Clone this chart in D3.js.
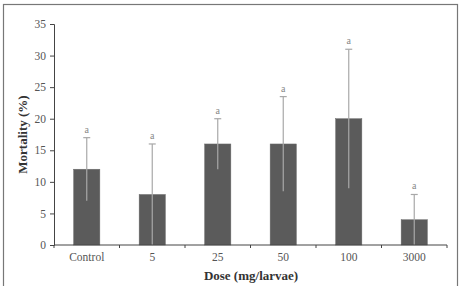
<!DOCTYPE html>
<html><head><meta charset="utf-8">
<script src="https://cdn.jsdelivr.net/npm/d3@7"></script>
<style>body{margin:0;background:#fff}svg{display:block}</style>
</head><body>
<script>
const categories = ["Control","5","25","50","100","3000"];
const mortality = [12, 8, 16, 16, 20, 4];
const errors = [5, 8, 4, 7.5, 11, 4];
const letters = ["a","a","a","a","a","a"];
const yTicks = [0,5,10,15,20,25,30,35];

(function(){
const W = 463, H = 286;
const svg = d3.select("body").append("svg").attr("width", W).attr("height", H);
svg.append("rect").attr("x",3.5).attr("y",4.5).attr("width",454).attr("height",290)
  .attr("fill","none").attr("stroke","#777").attr("stroke-width",1.2);

const mL = 54, mR = 447, mT = 24, mB = 245;
const x = d3.scaleBand().domain(categories).range([mL, mR]).paddingInner(0.6).paddingOuter(0.3);
const xb = d3.scaleBand().domain(categories).range([mL, mR]);
const y = d3.scaleLinear().domain([0,35]).range([mB, mT]);

const font = "'Liberation Serif', 'Times New Roman', serif";

svg.selectAll("rect.bar").data(categories).enter().append("rect")
  .attr("x", d => x(d)).attr("width", x.bandwidth())
  .attr("y", (d,i) => y(mortality[i])).attr("height", (d,i) => y(0) - y(mortality[i]))
  .attr("fill", "#5b5b5b").attr("stroke","#6a6a6a").attr("stroke-width",0.5);

const cx = d => x(d) + x.bandwidth()/2;
svg.selectAll("line.err").data(categories).enter().append("line")
  .attr("x1", cx).attr("x2", cx)
  .attr("y1", (d,i) => y(Math.max(0, mortality[i]-errors[i])))
  .attr("y2", (d,i) => y(mortality[i]+errors[i]))
  .attr("stroke", "#a8a8a8").attr("stroke-width", 1.2);
svg.selectAll("line.cap").data(categories).enter().append("line")
  .attr("x1", d => cx(d)-3.5).attr("x2", d => cx(d)+3.5)
  .attr("y1", (d,i) => y(mortality[i]+errors[i]))
  .attr("y2", (d,i) => y(mortality[i]+errors[i]))
  .attr("stroke", "#a8a8a8").attr("stroke-width", 1.2);
svg.selectAll("text.let").data(categories).enter().append("text")
  .attr("x", cx).attr("y", (d,i) => y(mortality[i]+errors[i]) - 5)
  .attr("text-anchor","middle").attr("font-family", font).attr("font-size", 10)
  .attr("fill","#888").text((d,i) => letters[i]);

const yAxis = svg.append("g").attr("transform", `translate(${mL},0)`)
  .call(d3.axisLeft(y).tickValues(yTicks).tickSize(4).tickPadding(4));
yAxis.select(".domain").attr("stroke","#444");
yAxis.selectAll(".tick line").attr("stroke","#444");
yAxis.selectAll("text").attr("font-family", font).attr("font-size", 11.5).attr("fill","#555");

const xAxis = svg.append("g").attr("transform", `translate(0,${mB})`)
  .call(d3.axisBottom(x).tickSize(0).tickPadding(8));
xAxis.select(".domain").attr("stroke","#444").attr("d", `M${mL},0H${mR}`);
xAxis.selectAll("text").attr("font-family", font).attr("font-size", 11.5).attr("fill","#555");
const bounds = categories.map(c => xb(c)).concat([mR]);
svg.append("g").selectAll("line").data(bounds).enter().append("line")
  .attr("x1", d => d).attr("x2", d => d).attr("y1", mB).attr("y2", mB+3)
  .attr("stroke","#444");

svg.append("text").attr("x", 251).attr("y", 280).attr("text-anchor","middle")
  .attr("font-family", font).attr("font-size", 13).attr("font-weight","bold").attr("fill","#333")
  .text("Dose (mg/larvae)");
svg.append("text").attr("transform", `translate(27,${(mT+mB)/2}) rotate(-90)`)
  .attr("text-anchor","middle").attr("font-family", font).attr("font-size", 13)
  .attr("font-weight","bold").attr("fill","#333").text("Mortality (%)");
})();
</script>
</body></html>
